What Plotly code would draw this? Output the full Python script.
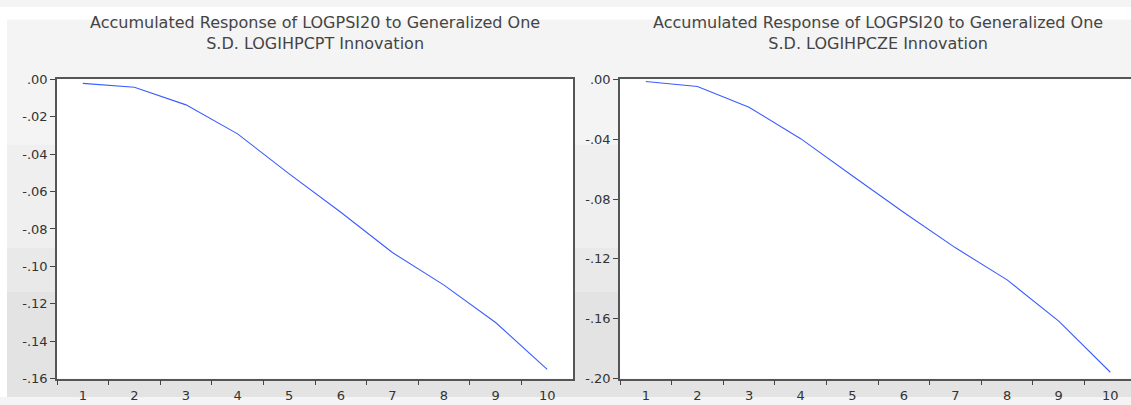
import plotly.graph_objects as go

periods = ["1", "2", "3", "4", "5", "6", "7", "8", "9", "10"]
resp_pt = [-0.0022, -0.0043, -0.0137, -0.0292, -0.0506, -0.0711, -0.0926, -0.1100, -0.1300, -0.1550]
resp_cze = [-0.0015, -0.0049, -0.0187, -0.0397, -0.0645, -0.0890, -0.1126, -0.1340, -0.1615, -0.1957]
yt_pt = [0.0, -0.02, -0.04, -0.06, -0.08, -0.10, -0.12, -0.14, -0.16]
yl_pt = [".00", "-.02", "-.04", "-.06", "-.08", "-.10", "-.12", "-.14", "-.16"]
yt_cze = [0.0, -0.04, -0.08, -0.12, -0.16, -0.20]
yl_cze = [".00", "-.04", "-.08", "-.12", "-.16", "-.20"]
title_pt = "Accumulated Response of LOGPSI20 to Generalized One<br>S.D. LOGIHPCPT Innovation"
title_cze = "Accumulated Response of LOGPSI20 to Generalized One<br>S.D. LOGIHPCZE Innovation"

W, H = 1131, 405
def px(x):
    return x / W
def py(y):
    return 1 - y / H

FONT = "DejaVu Sans"
LINE = "#3a5dff"

fig = go.Figure()
fig.add_trace(go.Scatter(x=periods, y=resp_pt, mode="lines", line=dict(color=LINE, width=1.1),
                         xaxis="x", yaxis="y", showlegend=False))
fig.add_trace(go.Scatter(x=periods, y=resp_cze, mode="lines", line=dict(color=LINE, width=1.1),
                         xaxis="x2", yaxis="y2", showlegend=False))

ydom = [py(386), py(75)]
axis_common = dict(showgrid=False, zeroline=False, showline=True, linecolor="#555555", linewidth=1.5,
                   ticks="outside", ticklen=5, tickcolor="#444444", tickwidth=1,
                   tickfont=dict(family=FONT, size=13, color="#333333"))

fig.update_layout(
    width=W, height=H,
    margin=dict(l=0, r=0, t=0, b=0),
    paper_bgcolor="#f4f4f4",
    plot_bgcolor="rgba(0,0,0,0)",
    font=dict(family=FONT),
    xaxis=dict(domain=[px(57), px(573)], type="category", tickson="boundaries",
               range=[-0.5, 9.5], mirror=True, anchor="y", ticklabelstandoff=4, **axis_common),
    yaxis=dict(domain=ydom, range=[-0.16, 0.0], tickvals=yt_pt, ticktext=yl_pt,
               mirror=True, anchor="x", **axis_common),
    xaxis2=dict(domain=[px(620), 1.0], type="category", tickson="boundaries",
                range=[-0.5, 9.4], mirror=True, anchor="y2", ticklabelstandoff=4, **axis_common),
    yaxis2=dict(domain=ydom, range=[-0.20, 0.0], tickvals=yt_cze, ticktext=yl_cze,
                mirror=False, anchor="x2", **axis_common),
)

# background bands (EViews-like frame)
bands = [(143, 250, "#efefef"), (250, 296, "#e9e9e9"), (296, 405, "#e3e3e3")]
shapes = []
for y0, y1, c in bands:
    shapes.append(dict(type="rect", xref="paper", yref="paper", x0=0, x1=1,
                       y0=py(y1), y1=py(y0), fillcolor=c, line=dict(width=0), layer="below"))
shapes.append(dict(type="rect", xref="paper", yref="paper", x0=0, x1=1,
                   y0=py(13), y1=1, fillcolor="#ffffff", line=dict(width=0), layer="below"))
shapes.append(dict(type="rect", xref="paper", yref="paper", x0=0, x1=px(7),
                   y0=0, y1=1, fillcolor="#ffffff", line=dict(width=0), layer="below"))
# white plot areas
for xr, yr in [("x domain", "y domain"), ("x2 domain", "y2 domain")]:
    shapes.append(dict(type="rect", xref=xr, yref=yr, x0=0, x1=1, y0=0, y1=1,
                       fillcolor="#ffffff", line=dict(width=0), layer="below"))
fig.update_layout(shapes=shapes)

for t, xc in [(title_pt, (57 + 573) / 2), (title_cze, (620 + 1136) / 2)]:
    fig.add_annotation(text=t, xref="paper", yref="paper", x=px(xc), y=py(4),
                       xanchor="center", yanchor="top", showarrow=False,
                       font=dict(family=FONT, size=16, color="#444444"))

fig.write_html("out.html", post_script="document.body.style.margin='0px';",
               config={"displayModeBar": False})
